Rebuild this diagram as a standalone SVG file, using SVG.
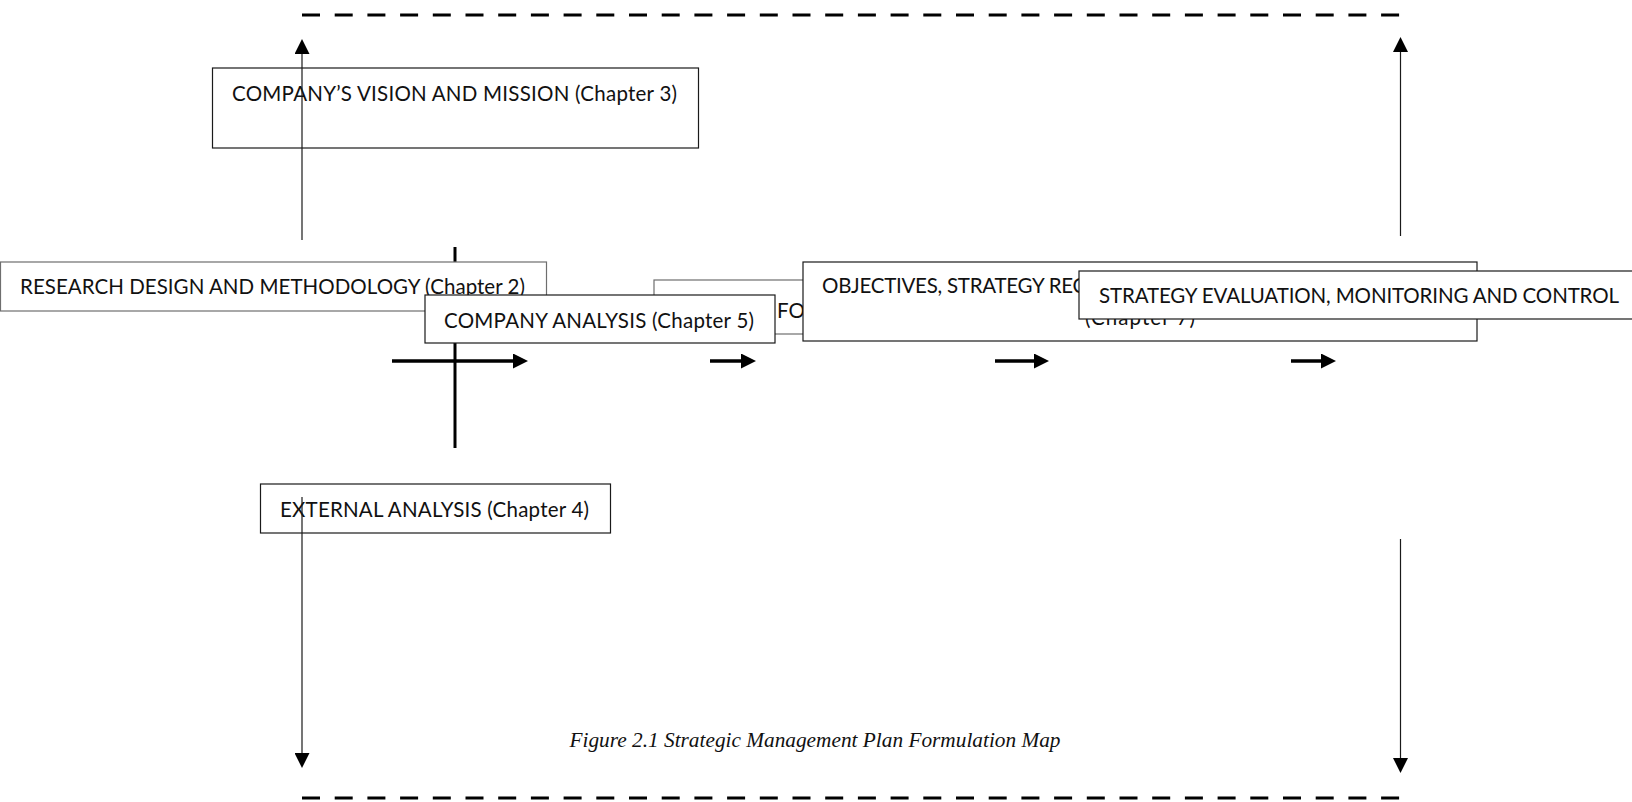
<svg xmlns="http://www.w3.org/2000/svg" width="1632" height="802" viewBox="0 0 1632 802">
  <style>
    .box { fill: #ffffff; stroke: #1a1a1a; stroke-width: 1.2; }
    .box-soft { fill: #ffffff; stroke: #6e6e6e; stroke-width: 1.2; }
    .label { font-family: Lato, "Liberation Sans", sans-serif; font-size: 20.5px; fill: #111111; }
    .caption { font-family: "Liberation Serif", "DejaVu Serif", serif; font-style: italic; font-size: 21.3px; fill: #111111; }
    .bound { stroke: #000000; stroke-width: 3; stroke-dasharray: 18 14.7; fill: none; }
    .flow { stroke: #000000; stroke-width: 3.5; fill: none; }
    .thin { stroke: #1a1a1a; stroke-width: 1.2; fill: none; }
  </style>
  <defs>
    <marker id="head-bold" markerUnits="userSpaceOnUse" markerWidth="15" markerHeight="15" refX="5" refY="7.5" orient="auto">
      <path d="M0,0 L15,7.5 L0,15 Z" fill="#000000"/>
    </marker>
    <marker id="head-thin" markerUnits="userSpaceOnUse" markerWidth="15" markerHeight="15" refX="3" refY="7.5" orient="auto">
      <path d="M0,0 L15,7.5 L0,15 Z" fill="#000000"/>
    </marker>
  </defs>

  <rect width="1632" height="802" fill="#ffffff"/>

  <!-- dashed boundary lines -->
  <g id="boundaries">
    <line class="bound" x1="302" y1="15" x2="1400" y2="15"/>
    <line class="bound" x1="302" y1="798" x2="1400" y2="798"/>
  </g>

  <!-- vertical bar of the central cross, sits behind the boxes -->
  <g id="cross-bar">
    <line x1="455" y1="247" x2="455" y2="448" stroke="#000000" stroke-width="3"/>
  </g>

  <g id="node-research">
    <rect class="box-soft" x="0.5" y="262" width="546" height="49"/>
    <text class="label" x="20" y="294" textLength="505" lengthAdjust="spacing">RESEARCH DESIGN AND METHODOLOGY (Chapter 2)</text>
  </g>

  <g id="node-formulation">
    <rect class="box-soft" x="654" y="280" width="200" height="54"/>
    <text class="label" x="777" y="318">FO</text>
  </g>

  <g id="node-company">
    <rect class="box" x="425" y="295" width="350" height="48"/>
    <text class="label" x="444" y="328" textLength="310" lengthAdjust="spacing">COMPANY ANALYSIS (Chapter 5)</text>
  </g>

  <g id="node-objectives">
    <rect class="box" x="803" y="262" width="674" height="79"/>
    <text class="label" x="822" y="293" letter-spacing="-0.25">OBJECTIVES, STRATEGY REC</text>
    <text class="label" x="1085" y="325" textLength="110" lengthAdjust="spacing">(Chapter 7)</text>
  </g>

  <g id="node-evaluation">
    <rect class="box" x="1079" y="271" width="600" height="48" stroke="#4a4a4a"/>
    <text class="label" x="1099" y="303" textLength="520" lengthAdjust="spacing">STRATEGY EVALUATION, MONITORING AND CONTROL</text>
  </g>

  <g id="node-vision">
    <rect class="box" x="212.5" y="68" width="486" height="80"/>
    <text class="label" x="232" y="101" textLength="445" lengthAdjust="spacing">COMPANY’S VISION AND MISSION (Chapter 3)</text>
  </g>

  <g id="node-external">
    <rect class="box" x="260.5" y="484" width="350" height="49"/>
    <text class="label" x="280" y="517" textLength="309" lengthAdjust="spacing">EXTERNAL ANALYSIS (Chapter 4)</text>
  </g>

  <!-- connectors -->
  <g id="connectors">
    <line class="flow" x1="392" y1="361" x2="518" y2="361" marker-end="url(#head-bold)"/>
    <line class="flow" x1="710" y1="361" x2="746" y2="361" marker-end="url(#head-bold)"/>
    <line class="flow" x1="995" y1="361" x2="1039" y2="361" marker-end="url(#head-bold)"/>
    <line class="flow" x1="1291" y1="361" x2="1326" y2="361" marker-end="url(#head-bold)"/>

    <line class="thin" x1="302" y1="240" x2="302" y2="51" marker-end="url(#head-thin)"/>
    <line class="thin" x1="1400.5" y1="236" x2="1400.5" y2="49" marker-end="url(#head-thin)" stroke="#555555"/>
    <line class="thin" x1="302" y1="497" x2="302" y2="756" marker-end="url(#head-thin)"/>
    <line class="thin" x1="1400.5" y1="539" x2="1400.5" y2="761" marker-end="url(#head-thin)" stroke="#333333"/>
  </g>

  <g id="caption">
    <text class="caption" x="815" y="747" text-anchor="middle" textLength="491" lengthAdjust="spacing">Figure 2.1 Strategic Management Plan Formulation Map</text>
  </g>
</svg>
